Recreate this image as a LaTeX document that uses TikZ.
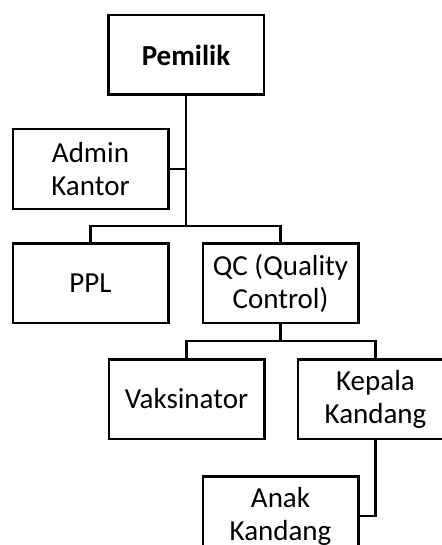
\documentclass[tikz,border=0pt]{standalone}
\usepackage{fontspec}
\setmainfont{Carlito}
\usetikzlibrary{positioning}

\begin{document}
\begin{tikzpicture}[
      box/.style={rectangle, draw=black, line width=2.5pt, fill=white,
                  minimum height=79.5pt, minimum width=155.5pt, inner sep=2pt,
                  align=center, font=\fontsize{29}{33}\selectfont},
      link/.style={draw=black, line width=2.5pt}
    ]
    \useasboundingbox (0,0) rectangle (441pt,-545pt);
    % --- boxes ---
    \node[box, font=\fontsize{29}{33}\selectfont\bfseries] (pemilik) at (186pt,-55pt) {Pemilik};
    \node[box, below=32pt of pemilik, xshift=-95.5pt] (admin) {Admin\\Kantor};
    \node[box, below=32pt of admin] (ppl) {PPL};
    \node[box, right=32pt of ppl] (qc) {QC (Quality\\Control)};
    \node[box, below=34pt of qc, xshift=-94pt] (vaks) {Vaksinator};
    \node[box, right=31pt of vaks] (kepala) {Kepala\\Kandang};
    \node[box, below=35pt of kepala, xshift=-95pt] (anak) {Anak\\Kandang};

    % --- lines ---
    \coordinate (bus1) at ([yshift=16pt]ppl.north);
    \coordinate (bus2) at ([yshift=17pt]vaks.north);
    \draw[link] (pemilik.south) -- (pemilik.south |- bus1);
    \draw[link] (admin.east) -- (admin.east -| pemilik.south);
    \draw[link] (ppl.north) -- (bus1) -| (qc.north);
    \draw[link] (qc.south) -- (qc.south |- bus2);
    \draw[link] (vaks.north) -- (bus2) -| (kepala.north);
    \draw[link] (kepala.south) |- (anak.east);
  \end{tikzpicture}
\end{document}
